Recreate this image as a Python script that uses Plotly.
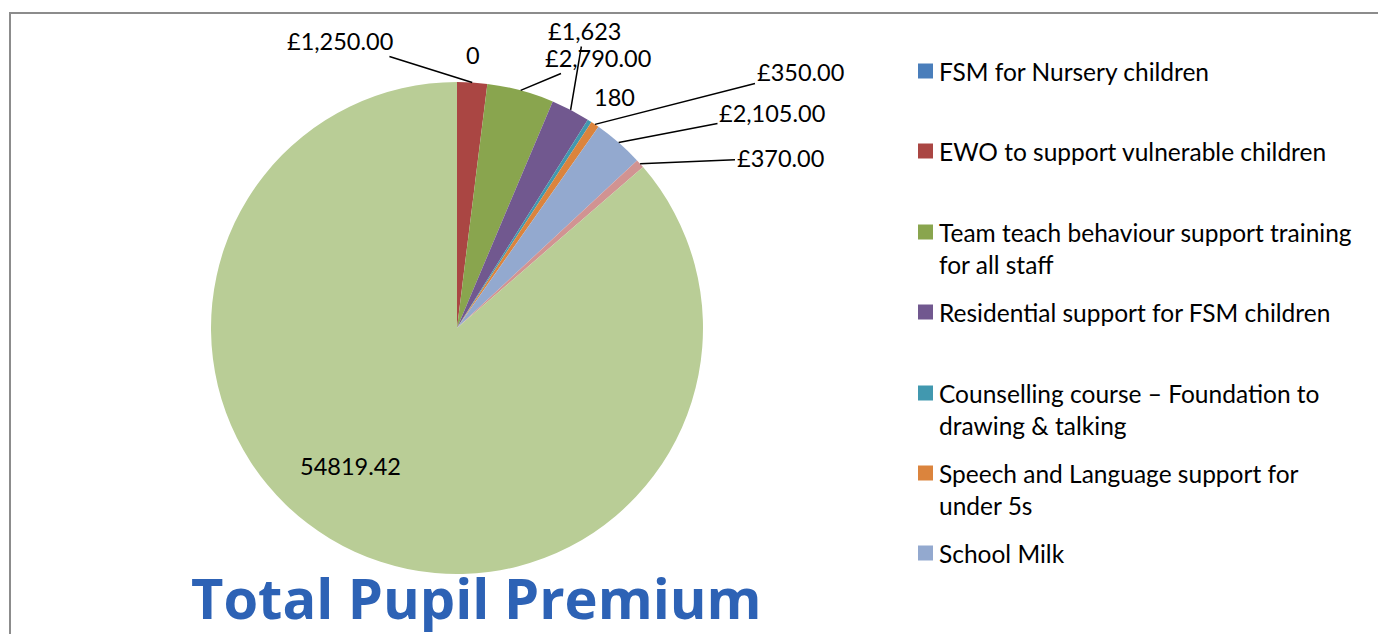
import math
import plotly.graph_objects as go

# ---- data ----
categories = [
    "FSM for Nursery children",
    "EWO to support vulnerable children",
    "Team teach behaviour support training for all staff",
    "Residential support for FSM children",
    "Counselling course \u2013 Foundation to drawing & talking",
    "Speech and Language support for under 5s",
    "School Milk",
    "Other support",
    "Remaining Pupil Premium",
]
values = [0, 1250, 2790, 1623, 180, 350, 2105, 370, 54819.42]
value_labels = ["0", "\u00a31,250.00", "\u00a32,790.00", "\u00a31,623", "180",
                "\u00a3350.00", "\u00a32,105.00", "\u00a3370.00", "54819.42"]
legend_lines = [
    ["FSM for Nursery children"],
    ["EWO to support vulnerable children"],
    ["Team teach behaviour support training", "for all staff"],
    ["Residential support for FSM children"],
    ["Counselling course \u2013 Foundation to", "drawing & talking"],
    ["Speech and Language support for", "under 5s"],
    ["School Milk"],
]
colors = ["#4A7EBB", "#AA4643", "#89A54E", "#71588F", "#4198AF",
          "#DB843D", "#93A9CF", "#D19392", "#B9CD96"]

# ---- layout constants (pixels) ----
W, H = 1378, 634
cx, cy, R = 457, 328, 246
FONT = "Lato"
FS = 23.5
FS_LEG = 24.5
label_pos = [(473, 55), (340, 41), (598, 58), (584, 31), (614, 97),
             (800, 72), (772, 113), (780, 158), (350, 466)]
has_leader = [False, True, True, True, False, True, True, True, False]
legend_y = [71, 151, 232, 312, 393, 473, 553]
line_h = 32

fig = go.Figure()
fig.add_trace(go.Pie(
    labels=categories, values=values, sort=False, direction="clockwise",
    rotation=0, marker=dict(colors=colors, line=dict(width=0)),
    textinfo="none", hoverinfo="label+value", showlegend=False,
    domain=dict(x=[(cx - R) / W, (cx + R) / W], y=[1 - (cy + R) / H, 1 - (cy - R) / H]),
))

annotations = []
total = sum(values)
cum = 0.0
for v, txt, (lx, ly), lead in zip(values, value_labels, label_pos, has_leader):
    th = 2 * math.pi * (cum + v / 2) / total
    cum += v
    px = cx + R * math.sin(th)
    py = cy - R * math.cos(th)
    if lead:
        annotations.append(dict(x=px, y=py, xref="x", yref="y", ax=lx, ay=ly,
                                axref="x", ayref="y", text=txt, showarrow=True,
                                arrowhead=0, arrowwidth=1.5, arrowcolor="black",
                                font=dict(family=FONT, size=FS, color="black")))
    else:
        annotations.append(dict(x=lx, y=ly, xref="x", yref="y", text=txt,
                                showarrow=False,
                                font=dict(family=FONT, size=FS, color="black")))

shapes = [dict(type="rect", xref="x", yref="y", x0=10, y0=13, x1=W + 20, y1=H + 20,
               line=dict(color="#8C8C8C", width=2), fillcolor="rgba(0,0,0,0)", layer="below")]
for lines, y0, col in zip(legend_lines, legend_y, colors):
    shapes.append(dict(type="rect", xref="x", yref="y", x0=918, x1=933,
                       y0=y0 - 7.5, y1=y0 + 7.5, fillcolor=col, line=dict(width=0)))
    for k, t in enumerate(lines):
        annotations.append(dict(x=937, y=y0 + k * line_h, xref="x", yref="y",
                                xanchor="left", yanchor="middle", text=t, showarrow=False,
                                font=dict(family=FONT, size=FS_LEG, color="black")))

annotations.append(dict(x=476, y=597, xref="x", yref="y", text="<b>Total Pupil Premium</b>",
                        showarrow=False, xanchor="center", yanchor="middle",
                        font=dict(family="Open Sans", size=56, color="#2D62B5")))

fig.update_layout(
    width=W, height=H, margin=dict(l=0, r=0, t=0, b=0),
    paper_bgcolor="white", plot_bgcolor="rgba(0,0,0,0)",
    xaxis=dict(range=[0, W], visible=False, fixedrange=True),
    yaxis=dict(range=[H, 0], visible=False, fixedrange=True),
    annotations=annotations, shapes=shapes, showlegend=False,
)
fig.write_html("out.html")
